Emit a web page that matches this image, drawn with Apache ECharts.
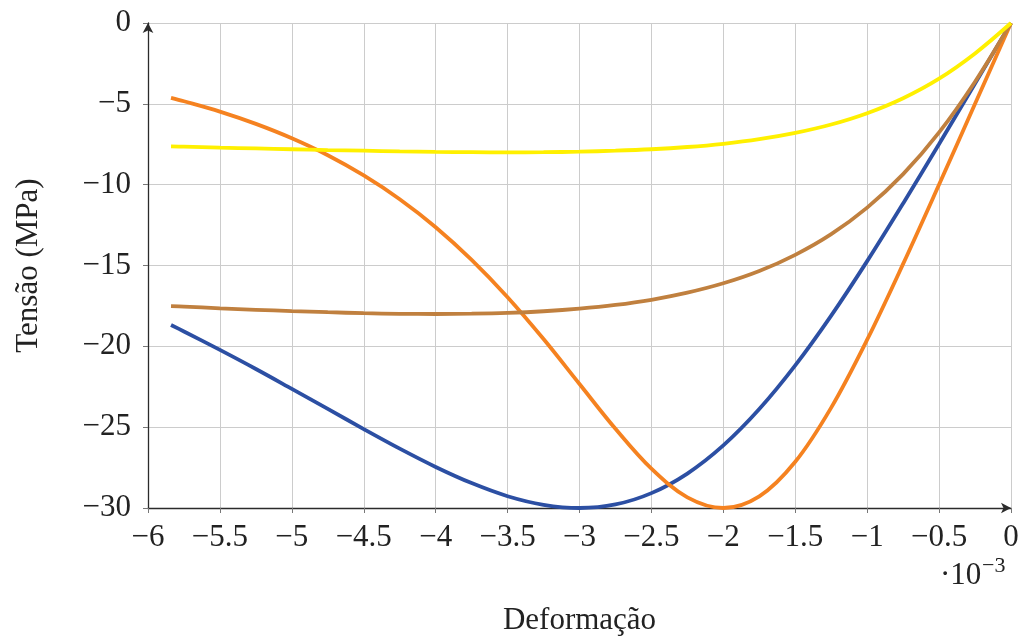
<!DOCTYPE html>
<html>
<head>
<meta charset="utf-8">
<title>Tensão × Deformação</title>
<script src="https://cdn.jsdelivr.net/npm/echarts@6/dist/echarts.min.js"></script>
<style>
  html, body { margin: 0; padding: 0; background: #ffffff; }
  #chart { width: 1023px; height: 637px; }
</style>
</head>
<body>
<div id="chart"></div>
<script>
// Strain values (×10⁻³), compressive side
const strain = [0, -0.25, -0.5, -0.75, -1, -1.25, -1.5, -1.75, -2, -2.25, -2.5, -2.75,
  -3, -3.25, -3.5, -3.75, -4, -4.25, -4.5, -4.75, -5, -5.25, -5.5, -5.75, -5.84];

// Stress (MPa) for each concrete curve
const stressBlue = [0, -3.75, -7.48, -11.16, -14.73, -18.10, -21.18, -23.88, -26.13, -27.87, -29.08, -29.78,
  -30, -29.80, -29.27, -28.46, -27.46, -26.33, -25.12, -23.87, -22.63, -21.40, -20.22, -19.08, -18.68];
const stressOrange = [0, -5.00, -9.99, -14.90, -19.59, -23.79, -27.14, -29.28, -30, -29.34, -27.57, -25.10,
  -22.33, -19.55, -16.96, -14.65, -12.63, -10.90, -9.43, -8.18, -7.13, -6.24, -5.48, -4.84, -4.63];
const stressBrown = [0, -3.63, -6.77, -9.35, -11.42, -13.06, -14.34, -15.34, -16.10, -16.68, -17.12, -17.44,
  -17.67, -17.83, -17.93, -17.98, -18.00, -17.99, -17.95, -17.89, -17.82, -17.74, -17.65, -17.54, -17.51];
const stressYellow = [0, -1.88, -3.44, -4.65, -5.58, -6.28, -6.80, -7.19, -7.47, -7.67, -7.81, -7.90,
  -7.96, -7.99, -8.00, -7.99, -7.97, -7.94, -7.90, -7.86, -7.81, -7.76, -7.71, -7.65, -7.63];

const xTicks = { min: -6, max: 0, step: 0.5 };
const yTicks = { min: -30, max: 0, step: 5 };

const FONT = '"Liberation Serif", "Times New Roman", serif';
const fmt = v => String(v).replace('-', '\u2212');
const pairs = ys => strain.map((x, i) => [x, ys[i]]);

const curves = [
  { name: 'fc30-e3', color: '#2c4fa3', data: stressBlue },
  { name: 'fc30-e2', color: '#f58220', data: stressOrange },
  { name: 'fc18-e4', color: '#c0803f', data: stressBrown },
  { name: 'fc8-e35', color: '#fff000', data: stressYellow }
];

const chart = echarts.init(document.getElementById('chart'), null, { renderer: 'canvas' });

const axisLine = {
  show: true,
  onZero: false,
  symbol: ['none', 'arrow'],
  symbolSize: [8, 10],
  lineStyle: { color: '#2b2b2b', width: 1.3 }
};

chart.setOption({
  animation: false,
  backgroundColor: '#ffffff',
  grid: { left: 148, top: 23, right: 12, bottom: 129, containLabel: false, outerBoundsMode: 'none' },
  xAxis: {
    type: 'value',
    min: xTicks.min, max: xTicks.max, interval: xTicks.step,
    name: 'Deformação',
    nameLocation: 'middle',
    nameGap: 97,
    nameTextStyle: { fontFamily: FONT, fontSize: 31, color: '#222' },
    axisLine: axisLine,
    axisTick: { show: true, length: 5, lineStyle: { color: '#777', width: 1 } },
    axisLabel: { formatter: fmt, fontFamily: FONT, fontSize: 31, color: '#222', margin: 14 },
    splitLine: { show: true, lineStyle: { color: '#cccccc', width: 1 } }
  },
  yAxis: {
    type: 'value',
    min: yTicks.min, max: yTicks.max, interval: yTicks.step,
    name: 'Tensão (MPa)',
    nameLocation: 'middle',
    nameGap: 104,
    nameTextStyle: { fontFamily: FONT, fontSize: 31, color: '#222' },
    axisLine: axisLine,
    axisTick: { show: true, length: 5, lineStyle: { color: '#777', width: 1 } },
    axisLabel: { formatter: fmt, fontFamily: FONT, fontSize: 31, color: '#222', margin: 17 },
    splitLine: { show: true, lineStyle: { color: '#cccccc', width: 1 } }
  },
  graphic: [
    {
      type: 'text', left: 940, top: 560,
      style: { text: '·10', font: '31px ' + FONT, fill: '#222' }
    },
    {
      type: 'text', left: 982, top: 555,
      style: { text: '\u22123', font: '22px ' + FONT, fill: '#222' }
    }
  ],
  series: curves.map(c => ({
    name: c.name,
    type: 'line',
    data: pairs(c.data),
    smooth: 0.35,
    showSymbol: false,
    lineStyle: { color: c.color, width: 3.8 },
    itemStyle: { color: c.color }
  }))
});
</script>
</body>
</html>
